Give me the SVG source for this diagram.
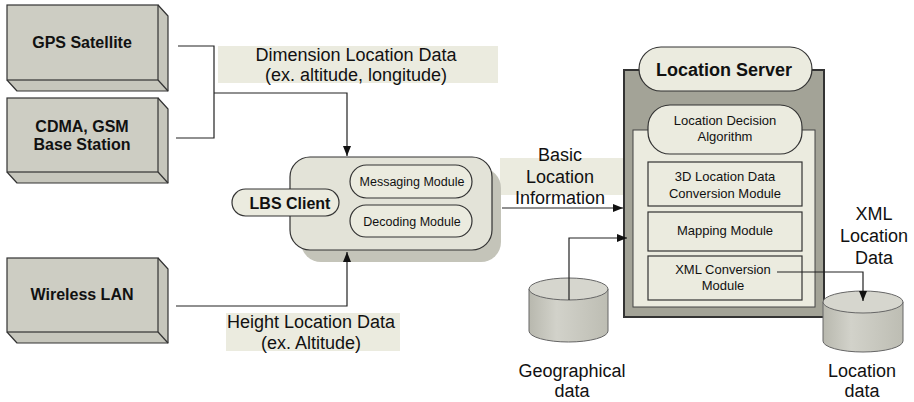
<svg xmlns="http://www.w3.org/2000/svg" width="914" height="402" viewBox="0 0 914 402">
<style>
  text { font-family: "Liberation Sans", Arial, sans-serif; fill: #111; text-anchor: middle; }
  .src-face { fill: #CDCDC3; stroke: #333; stroke-width: 1.2; }
  .src-side { fill: #C6C6BC; stroke: #333; stroke-width: 1.2; stroke-linejoin: round; }
  .src-label { font-size: 16px; font-weight: bold; }
  .lbl-bg { fill: #EBEBDF; }
  .lbl { font-size: 18px; }
  .pill { fill: #EBEBDF; stroke: #333; stroke-width: 1.2; }
  .mod { fill: #EBEBDF; stroke: #333; stroke-width: 1.2; }
  .mod-text { font-size: 13px; }
  .cl-text { font-size: 12.5px; }
  .wire { fill: none; stroke: #222; stroke-width: 1.2; }
  .cyl-top { fill: #D6D6CE; stroke: #666; stroke-width: 1; }
  .cyl-body { fill: url(#cylGrad); stroke: #666; stroke-width: 1; }
</style>
<defs>
  <marker id="arrow" viewBox="0 0 10 10" refX="10" refY="5" markerWidth="10" markerHeight="10" markerUnits="userSpaceOnUse" orient="auto">
    <path d="M0,1 L10,5 L0,9 z" fill="#111"/>
  </marker>
  <linearGradient id="cylGrad" x1="0" y1="0" x2="1" y2="0">
    <stop offset="0" stop-color="#B8B8AE"/>
    <stop offset="0.35" stop-color="#D2D2CA"/>
    <stop offset="1" stop-color="#BDBDB3"/>
  </linearGradient>
</defs>

<!-- label backgrounds -->
<rect class="lbl-bg" x="218" y="46" width="280" height="37"/>
<rect class="lbl-bg" x="226" y="313" width="174" height="38"/>
<rect class="lbl-bg" x="500" y="158" width="123" height="37"/>

<!-- source boxes -->
<g id="gps-satellite">
  <path class="src-side" d="M158,5 L168,16 V91 H17 L7,80"/>
  <path class="src-side" d="M158,80 L168,91"/>
  <rect class="src-face" x="7" y="5" width="151" height="75"/>
  <text class="src-label" x="82" y="48">GPS Satellite</text>
</g>
<g id="cdma-gsm">
  <path class="src-side" d="M158,98 L168,109 V183 H17 L7,172"/>
  <path class="src-side" d="M158,172 L168,183"/>
  <rect class="src-face" x="7" y="98" width="151" height="74"/>
  <text class="src-label" x="82" y="132">CDMA, GSM</text>
  <text class="src-label" x="82" y="150">Base Station</text>
</g>
<g id="wireless-lan">
  <path class="src-side" d="M158,258 L168,269 V343 H17 L7,332"/>
  <path class="src-side" d="M158,332 L168,343"/>
  <rect class="src-face" x="7" y="258" width="151" height="74"/>
  <text class="src-label" x="82" y="300">Wireless LAN</text>
</g>

<!-- edge labels -->
<text class="lbl" x="356" y="61">Dimension Location Data</text>
<text class="lbl" x="356" y="81">(ex. altitude, longitude)</text>
<text class="lbl" x="311" y="328">Height Location Data</text>
<text class="lbl" x="311" y="349">(ex. Altitude)</text>
<text class="lbl" x="560" y="161">Basic</text>
<text class="lbl" x="560" y="183">Location</text>
<text class="lbl" x="560" y="204">Information</text>

<!-- LBS client -->
<g id="lbs-client">
  <rect x="301" y="168" width="200" height="94" rx="20" fill="#C4C4B9"/>
  <rect x="290" y="157" width="202" height="93" rx="20" fill="#E3E3D8" stroke="#333" stroke-width="1.2"/>
  <rect class="pill" x="232" y="189" width="107" height="27" rx="13.5"/>
  <text x="290" y="209" font-size="16" font-weight="bold">LBS Client</text>
  <rect class="pill" x="350" y="165" width="122" height="33" rx="16.5"/>
  <text class="cl-text" x="412" y="186">Messaging Module</text>
  <rect class="pill" x="350" y="205" width="122" height="32" rx="16"/>
  <text class="cl-text" x="412" y="226">Decoding Module</text>
</g>

<!-- Location server -->
<g id="location-server">
  <rect x="624" y="70" width="200" height="247" fill="#A3A397" stroke="#333" stroke-width="2"/>
  <rect x="633" y="130" width="182" height="177" fill="#EBEBDF" stroke="#444" stroke-width="1"/>
  <rect class="pill" x="639" y="47" width="173" height="44" rx="22"/>
  <text x="724" y="76" font-size="18" font-weight="bold">Location Server</text>
  <rect class="pill" x="648" y="105" width="154" height="49" rx="22"/>
  <text class="mod-text" x="725" y="125">Location Decision</text>
  <text class="mod-text" x="725" y="141">Algorithm</text>
  <rect class="mod" x="648" y="162" width="154" height="44"/>
  <text class="mod-text" x="725" y="181">3D Location Data</text>
  <text class="mod-text" x="725" y="198">Conversion Module</text>
  <rect class="mod" x="648" y="212" width="154" height="39"/>
  <text class="mod-text" x="725" y="235">Mapping Module</text>
  <rect class="mod" x="648" y="256" width="154" height="44"/>
  <text class="mod-text" x="723" y="274">XML Conversion</text>
  <text class="mod-text" x="723" y="290">Module</text>
</g>

<!-- geographical data store -->
<g id="geographical-data">
  <path class="cyl-body" d="M529,289 V331 A39.5,11 0 0 0 608,331 V289"/>
  <ellipse class="cyl-top" cx="568.5" cy="289" rx="39.5" ry="11"/>
  <text class="lbl" x="572" y="377">Geographical</text>
  <text class="lbl" x="572" y="397">data</text>
</g>

<!-- location data store -->
<g id="location-data">
  <path class="cyl-body" d="M823,302 V341 A40,11 0 0 0 903,341 V302"/>
  <ellipse class="cyl-top" cx="863" cy="302" rx="40" ry="11"/>
  <text class="lbl" x="862" y="377">Location</text>
  <text class="lbl" x="862" y="397">data</text>
</g>

<text class="lbl" x="874" y="220">XML</text>
<text class="lbl" x="874" y="242">Location</text>
<text class="lbl" x="874" y="264">Data</text>

<!-- connectors -->
<g id="connectors">
  <path class="wire" d="M178,46 H214 V138 H176"/>
  <path class="wire" d="M214,93 H347 V156" marker-end="url(#arrow)"/>
  <path class="wire" d="M176,306 H347 V252" marker-end="url(#arrow)"/>
  <path class="wire" d="M502,208 H623" marker-end="url(#arrow)"/>
  <path class="wire" d="M569,300 V238 H627" marker-end="url(#arrow)"/>
  <path class="wire" d="M777,272 H863 V301" marker-end="url(#arrow)"/>
</g>
</svg>
